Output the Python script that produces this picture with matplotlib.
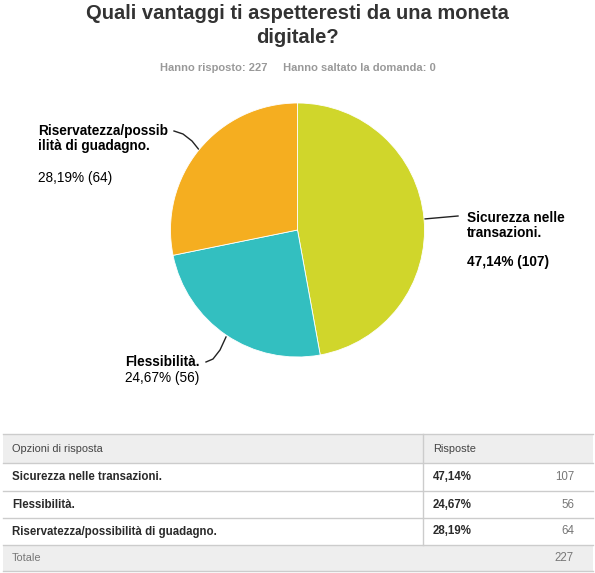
import matplotlib
matplotlib.use("Agg")
import matplotlib.pyplot as plt
from matplotlib.patches import Rectangle

plt.rcParams['font.family'] = ['Liberation Sans', 'DejaVu Sans']

title_lines = ["Quali vantaggi ti aspetteresti da una moneta", "digitale?"]
subtitle = "Hanno risposto: 227     Hanno saltato la domanda: 0"
categories = ["Sicurezza nelle transazioni.", "Flessibilità.", "Riservatezza/possibilità di guadagno."]
pie_labels = ["Sicurezza nelle\ntransazioni.", "Flessibilità.", "Riservatezza/possib\nilità di guadagno."]
percents = ["47,14%", "24,67%", "28,19%"]
counts = [107, 56, 64]
total = 227
colors = ["#D0D62B", "#33BFC0", "#F5AE20"]

W, H = 595, 573
fig = plt.figure(figsize=(W / 100, H / 100), dpi=100)
bg = fig.add_axes([0, 0, 1, 1])
bg.set_xlim(0, W)
bg.set_ylim(H, 0)
bg.axis('off')

# Title
bg.text(W / 2, 19, title_lines[0], ha='center', va='baseline', fontsize=14.5,
        fontweight='bold', color='#333333')
bg.text(W / 2, 43, title_lines[1], ha='center', va='baseline', fontsize=14.5,
        fontweight='bold', color='#333333')
bg.text(W / 2, 71, subtitle, ha='center', va='baseline', fontsize=8,
        color='#999999', fontweight='bold')

# Pie
cx, cy, r = 297.5, 230, 127
pax = fig.add_axes([(cx - r) / W, 1 - (cy + r) / H, 2 * r / W, 2 * r / H])
pax.pie(counts, colors=colors, startangle=90, counterclock=False,
        wedgeprops=dict(linewidth=0.6, edgecolor='white'))
pax.set_xlim(-1, 1)
pax.set_ylim(-1, 1)
pax.set_aspect('auto')
pax.axis('off')

lab_kw = dict(fontsize=9.8, color='black', va='baseline', ha='left')
# Sicurezza
bg.text(467, 222, pie_labels[0].split("\n")[0], fontweight='bold', **lab_kw)
bg.text(467, 237, pie_labels[0].split("\n")[1], fontweight='bold', **lab_kw)
bg.text(467, 266, f"{percents[0]} ({counts[0]})", fontweight='bold', **lab_kw)
bg.plot([424, 458], [219, 216], color='#222222', lw=1)
# Riservatezza
bg.text(38, 135, pie_labels[2].split("\n")[0], fontweight='bold', **lab_kw)
bg.text(38, 150, pie_labels[2].split("\n")[1], fontweight='bold', **lab_kw)
bg.text(38, 182, f"{percents[2]} ({counts[2]})", **lab_kw)
bg.plot([174, 183, 192, 200], [131, 134, 141, 151], color='#222222', lw=1)
# Flessibilità
bg.text(125, 366, pie_labels[1], fontweight='bold', **lab_kw)
bg.text(125, 382, f"{percents[1]} ({counts[1]})", **lab_kw)
bg.plot([206, 213, 220, 226], [362, 359, 350, 337], color='#222222', lw=1)

# Table
x0, x1, xdiv = 3, 593, 423
rows_y = [434, 463, 491, 518, 545, 571]
bg.add_patch(Rectangle((x0, rows_y[0]), x1 - x0, rows_y[1] - rows_y[0],
                       facecolor='#EEEEEE', edgecolor='none'))
bg.add_patch(Rectangle((x0, rows_y[4]), x1 - x0, rows_y[5] - rows_y[4],
                       facecolor='#EEEEEE', edgecolor='none'))
for y in rows_y:
    bg.plot([x0, x1], [y, y], color='#CCCCCC', lw=1)
bg.plot([xdiv, xdiv], [rows_y[0], rows_y[4]], color='#CCCCCC', lw=1)

tk = dict(fontsize=8.3, va='center')
hk = dict(fontsize=7.9, va='center')
bg.text(12, (rows_y[0] + rows_y[1]) / 2, "Opzioni di risposta", color='#444444', ha='left', **hk)
bg.text(433, (rows_y[0] + rows_y[1]) / 2, "Risposte", color='#444444', ha='left', **hk)
for i, (c, p, n) in enumerate(zip(categories, percents, counts)):
    ym = (rows_y[i + 1] + rows_y[i + 2]) / 2
    bg.text(12, ym, c, color='#2a2a2a', ha='left', fontweight='bold', **tk)
    bg.text(433, ym, p, color='#2a2a2a', ha='left', fontweight='bold', **tk)
    bg.text(574, ym, str(n), color='#777777', ha='right', **tk)
bg.text(12, (rows_y[4] + rows_y[5]) / 2, "Totale", color='#777777', ha='left', **hk)
bg.text(574, (rows_y[4] + rows_y[5]) / 2, str(total), color='#777777', ha='right', **tk)

fig.savefig("out.png", dpi=100)
